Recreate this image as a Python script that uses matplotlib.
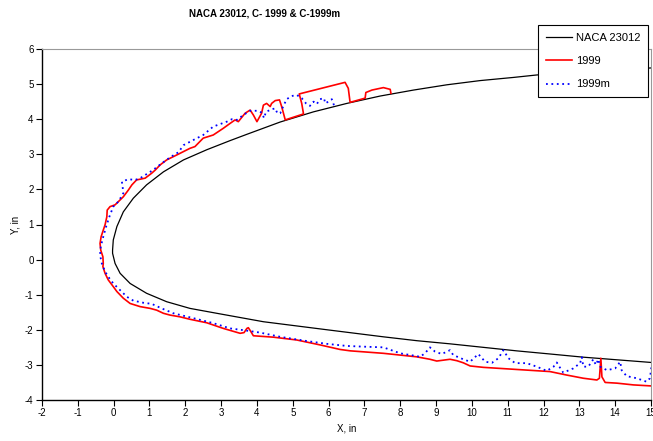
import numpy as np
import matplotlib.pyplot as plt

plt.rcParams['font.family'] = ['Liberation Sans', 'DejaVu Sans']
plt.rcParams['axes.unicode_minus'] = False

# ---- NACA 23012 contour ----
naca_x = [15.0, 13.16, 11.81, 11.16, 10.23, 9.30, 8.37, 7.44, 6.51, 5.58, 4.65, 3.72,
          3.25, 2.60, 1.95, 1.39, 0.92, 0.55, 0.27, 0.09, -0.01, -0.03, -0.03,
          0.04, 0.18, 0.46, 0.92, 1.48, 2.13, 2.88, 4.18, 5.11, 6.04, 7.53, 8.46,
          9.39, 10.32, 11.25, 12.19, 13.11, 15.0]
naca_y = [5.46, 5.37, 5.26, 5.19, 5.10, 4.98, 4.83, 4.66, 4.45, 4.21, 3.92, 3.57,
          3.39, 3.13, 2.84, 2.50, 2.13, 1.75, 1.36, 0.94, 0.56, 0.27, 0.18,
          -0.11, -0.39, -0.68, -0.96, -1.20, -1.39, -1.53, -1.77, -1.89, -2.01, -2.20, -2.31,
          -2.40, -2.50, -2.60, -2.69, -2.78, -2.93]

# ---- ice shape 1999 ----
x1999 = [7.74, 7.72, 7.53, 7.21, 7.04, 7.02, 6.60, 6.55, 6.46, 5.18, 5.25, 5.30, 4.79,
         4.69, 4.63, 4.51, 4.41, 4.37, 4.27, 4.18, 4.13, 4.00, 3.90, 3.81, 3.67, 3.48,
         3.39, 3.25, 3.06, 2.78, 2.50, 2.27, 2.13, 1.76, 1.48, 1.30, 1.16, 1.06, 0.88,
         0.64, 0.51, 0.41, 0.27, 0.18, 0.04, -0.10, -0.18, -0.19, -0.24, -0.29, -0.35,
         -0.38, -0.36, -0.30, -0.29, -0.30, -0.24, -0.15, -0.01, 0.09, 0.27, 0.46, 0.74,
         1.02, 1.20, 1.39, 1.57, 1.85, 2.13, 2.60, 3.06, 3.53, 3.64, 3.72, 3.76, 3.83,
         3.90, 4.46, 5.11, 5.76, 6.32, 6.61, 7.53, 8.46, 8.83, 9.02, 9.39, 9.58, 9.76,
         9.95, 10.32, 11.25, 12.18, 12.65, 13.11, 13.49, 13.56, 13.60, 13.63, 13.72,
         14.05, 14.51, 15.02]
y1999 = [4.74, 4.85, 4.90, 4.83, 4.76, 4.60, 4.48, 4.88, 5.05, 4.72, 4.45, 4.15, 3.98,
         4.36, 4.55, 4.53, 4.45, 4.36, 4.45, 4.40, 4.17, 3.93, 4.12, 4.26, 4.17, 3.93,
         3.98, 3.88, 3.74, 3.55, 3.46, 3.22, 3.17, 2.98, 2.84, 2.70, 2.55, 2.46, 2.32,
         2.27, 2.13, 1.98, 1.79, 1.70, 1.56, 1.51, 1.41, 1.22, 0.99, 0.84, 0.65,
         0.46, 0.27, 0.08, -0.11, -0.20, -0.39, -0.58, -0.77, -0.91, -1.10, -1.25, -1.34,
         -1.39, -1.44, -1.53, -1.58, -1.63, -1.70, -1.80, -1.96, -2.10, -2.08, -1.96, -1.94, -2.05,
         -2.17, -2.21, -2.29, -2.43, -2.56, -2.60, -2.67, -2.77, -2.84, -2.89, -2.84, -2.88, -2.94,
         -3.03, -3.07, -3.13, -3.19, -3.29, -3.38, -3.43, -3.38, -2.81, -3.34, -3.50,
         -3.52, -3.57, -3.60]

# ---- ice shape 1999m ----
x1999m = [6.15, 6.09, 5.99, 5.91, 5.87, 5.76, 5.67, 5.58, 5.48, 5.37, 5.25, 5.11, 4.97,
          4.83, 4.74, 4.65, 4.57, 4.51, 4.41, 4.25, 4.20, 4.13, 4.00, 3.81, 3.62, 3.44,
          3.30, 3.16, 2.97, 2.78, 2.50, 2.23, 1.95, 1.81, 1.57, 1.34, 1.16, 1.02, 0.88,
          0.74, 0.60, 0.41, 0.23, 0.25, 0.27, 0.13, -0.01, -0.12, -0.21, -0.29, -0.36,
          -0.38, -0.33, -0.24, -0.15, -0.01, 0.18, 0.37, 0.55, 0.83, 1.06, 1.34, 1.67,
          1.95, 2.23, 2.78, 3.25, 3.62, 4.09, 4.65, 5.39, 5.95, 6.51, 6.97, 7.53, 8.00,
          8.46, 8.55, 8.69, 8.83, 8.97, 9.16, 9.39, 9.48, 9.76, 9.95, 10.18, 10.37, 10.56,
          10.74, 10.88, 11.02, 11.21, 11.53, 11.81, 12.09, 12.28, 12.37, 12.46, 12.55,
          12.83, 13.02, 13.07, 13.11, 13.25, 13.39, 13.46, 13.53, 13.58, 13.77, 14.00,
          14.14, 14.18, 14.32, 14.60, 14.88, 14.97, 15.02]
y1999m = [4.40, 4.57, 4.50, 4.45, 4.60, 4.57, 4.43, 4.50, 4.38, 4.45, 4.60, 4.69, 4.66,
          4.57, 4.38, 4.17, 4.17, 4.31, 4.28, 4.21, 4.03, 4.19, 4.24, 4.24, 4.12, 3.98,
          4.00, 3.93, 3.86, 3.79, 3.55, 3.41, 3.26, 3.06, 2.91, 2.74, 2.60, 2.50, 2.41,
          2.32, 2.27, 2.29, 2.22, 2.08, 1.89, 1.65, 1.51, 1.22, 0.94, 0.65, 0.37,
          0.13, -0.11, -0.34, -0.49, -0.68, -0.87, -1.06, -1.17, -1.23, -1.26, -1.39, -1.53,
          -1.60, -1.67, -1.81, -1.96, -2.01, -2.08, -2.20, -2.32, -2.40, -2.46, -2.48, -2.50, -2.67,
          -2.75, -2.77, -2.67, -2.50, -2.62, -2.69, -2.58, -2.72, -2.84, -2.91, -2.69, -2.91, -2.94,
          -2.81, -2.58, -2.81, -2.95, -2.95, -3.05, -3.17, -3.05, -2.93, -3.08, -3.22,
          -3.10, -2.95, -2.78, -3.05, -3.05, -2.84, -3.00, -2.84, -3.05, -3.15, -3.10,
          -2.91, -3.15, -3.32, -3.38, -3.48, -3.38, -3.00]

fig = plt.figure(figsize=(6.53, 4.41), dpi=100)
ax = fig.add_axes([42 / 653, 41 / 441, 609 / 653, 351 / 441])

ax.plot(naca_x, naca_y, color='black', lw=0.9, label='NACA 23012')
ax.plot(x1999, y1999, color='red', lw=1.2, label='1999')
ax.plot(x1999m, y1999m, color='blue', lw=1.3, ls=(0, (1, 2)), label='1999m')

ax.set_xlim(-2, 15)
ax.set_ylim(-4, 6)
ax.set_xticks(np.arange(-2, 16, 1))
ax.set_yticks(np.arange(-4, 7, 1))
ax.tick_params(direction='out', length=4, width=0.8, labelsize=7, pad=2)
for s in ['top', 'right']:
    ax.spines[s].set_color('#999999')
    ax.spines[s].set_linewidth(0.8)
for s in ['left', 'bottom']:
    ax.spines[s].set_linewidth(1.0)

ax.set_xlabel('X, in', fontsize=7, labelpad=4)
ax.set_ylabel('Y, in', fontsize=7, labelpad=3)

fig.text(265 / 653, 1 - 14 / 441, 'NACA 23012, C- 1999 & C-1999m',
         ha='center', va='center', fontsize=7, fontweight='bold')

leg = fig.legend(loc='upper left', bbox_to_anchor=(538 / 653, 1 - 25 / 441),
                 fontsize=8, frameon=True, fancybox=False, framealpha=1,
                 edgecolor='black', handlelength=2.4, handletextpad=0.3,
                 labelspacing=1.2, borderpad=0.7, borderaxespad=0)
leg.get_frame().set_linewidth(0.8)

plt.savefig('out.png', dpi=100)
